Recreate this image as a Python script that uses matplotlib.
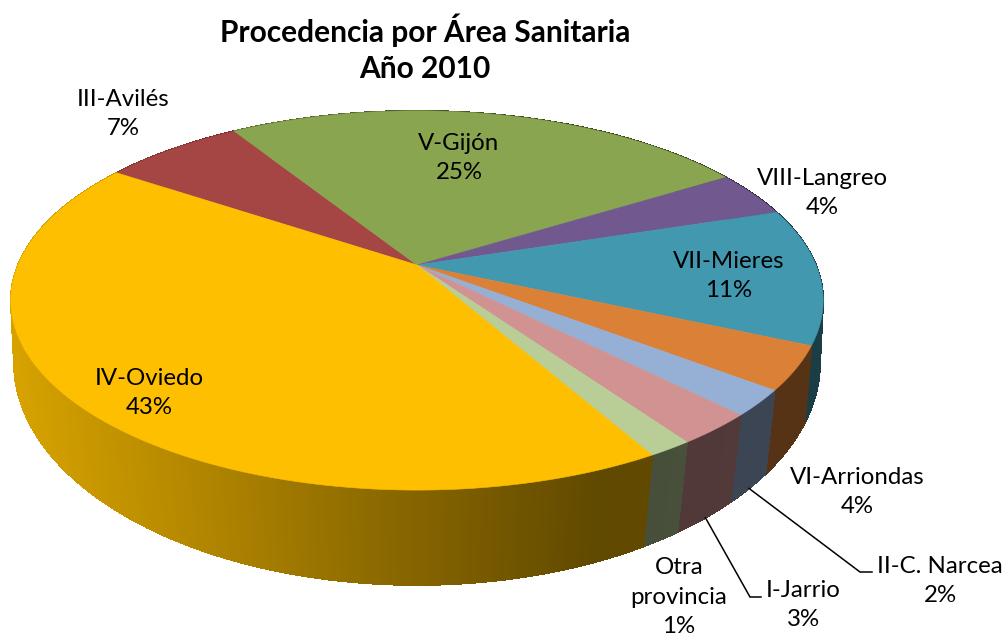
import numpy as np
import matplotlib
matplotlib.use('Agg')
import matplotlib.pyplot as plt
from matplotlib.collections import PolyCollection

# slices in drawing order, clockwise from the Oviedo / Aviles boundary
areas = ['III-Avilés', 'V-Gijón', 'VIII-Langreo', 'VII-Mieres', 'VI-Arriondas',
         'II-C. Narcea', 'I-Jarrio', 'Otra\nprovincia', 'IV-Oviedo']
shares = [6.7, 25.1, 3.9, 11.6, 3.7, 2.2, 2.7, 1.5, 42.6]
percent_labels = ['7%', '25%', '4%', '11%', '4%', '2%', '3%', '1%', '43%']
colours = ['#A54544', '#8AA54F', '#71588F', '#4198AF', '#DA8137',
           '#95AFD5', '#D09392', '#B9CD96', '#FDBF00']
label_centres = [(123, 114), (459, 158), (822, 193), (729, 276), (857, 492),
                 (940, 581), (803, 605), (679, 597), (149, 393)]

start_angle = 146.2
centre_x = 417
top_rim = {'a': 399.0, 'b': 183.0, 'y0': 265.0, 'tilt': 0.187}
bottom_rim = {'a': 398.5, 'b': 218.0, 'y0': 328.5, 'tilt': 0.15}

# how dark the side wall gets going from left to right
shade_x = [12, 320, 600, 823]
shade_v = [0.85, 0.60, 0.38, 0.40]


def project(theta, rim):
    """
    Perspective projection of a point on the pie edge to pixel coordinates
    """
    w = 1 + rim['tilt'] * np.sin(theta)
    x = centre_x + rim['a'] * np.cos(theta) / w
    y = rim['y0'] - rim['b'] * np.sin(theta) / w
    return x, y


def slice_edges(values):
    """
    Returns edge angles in radians of every slice, going clockwise
    """
    steps = np.concatenate([[0], np.cumsum(values)]) * 360 / np.sum(values)
    return np.radians(start_angle - steps)


def draw_walls(ax, edges):
    polys, faces = [], []
    for i, colour in enumerate(colours):
        n = max(int(abs(edges[i + 1] - edges[i]) * 100), 2)
        thetas = np.linspace(edges[i], edges[i + 1], n + 1)
        rgb = np.array(matplotlib.colors.to_rgb(colour))
        for t0, t1 in zip(thetas[:-1], thetas[1:]):
            x0, y0 = project(t0, top_rim)
            x1, y1 = project(t1, top_rim)
            x2, y2 = project(t1, bottom_rim)
            x3, y3 = project(t0, bottom_rim)
            polys.append([(x0, y0), (x1, y1), (x2, y2), (x3, y3)])
            faces.append(rgb * np.interp((x0 + x1) / 2, shade_x, shade_v))
    ax.add_collection(PolyCollection(polys, facecolors=faces, edgecolors=faces,
                                     linewidths=0.6, antialiaseds=False))


def draw_top(ax, edges):
    for i, colour in enumerate(colours):
        n = max(int(abs(edges[i + 1] - edges[i]) * 100), 2)
        x, y = project(np.linspace(edges[i], edges[i + 1], n + 1), top_rim)
        pts = [(centre_x, top_rim['y0'])] + list(zip(x, y))
        ax.fill(*zip(*pts), facecolor=colour, edgecolor=colour, linewidth=0.4)


def draw_leader(ax, edges, index, elbow, end):
    mid = (edges[index] + edges[index + 1]) / 2
    x, y = project(mid, bottom_rim)
    ax.plot([x, elbow[0], end[0]], [y, elbow[1], end[1]], color='black', lw=1.1,
            solid_joinstyle='miter')


def main():
    plt.rcParams['font.family'] = ['Lato', 'DejaVu Sans']
    fig = plt.figure(figsize=(10.05, 6.39), dpi=100)
    ax = fig.add_axes([0, 0, 1, 1])
    ax.set_xlim(0, 1005)
    ax.set_ylim(639, 0)
    ax.axis('off')

    edges = slice_edges(shares)
    draw_walls(ax, edges)
    draw_top(ax, edges)

    draw_leader(ax, edges, 5, (860, 572), (872, 572))
    draw_leader(ax, edges, 6, (750, 597), (761, 597))

    for name, pct, (x, y) in zip(areas, percent_labels, label_centres):
        ax.text(x, y, f'{name}\n{pct}', ha='center', va='center', fontsize=17.3,
                color='black', linespacing=1.52)

    ax.text(425, 48, 'Procedencia por Área Sanitaria\nAño 2010', ha='center', va='center',
            fontsize=21.5, fontweight='bold', color='black', linespacing=1.36)

    fig.savefig('out.png', dpi=100)


if __name__ == '__main__':
    main()
